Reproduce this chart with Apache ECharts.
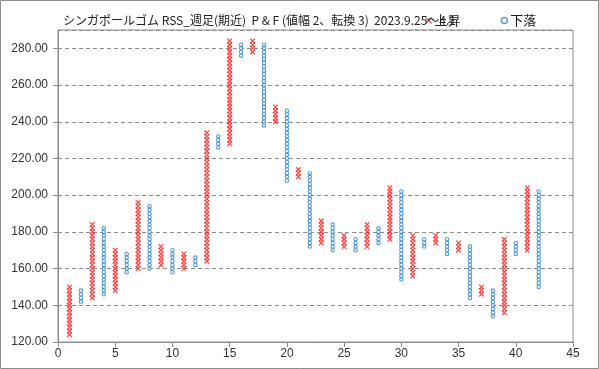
<!DOCTYPE html>
<html>
<head>
<meta charset="utf-8">
<script src="https://cdn.jsdelivr.net/npm/echarts@6/dist/echarts.min.js"></script>
<style>
html,body{margin:0;padding:0;background:#fff;}
#c{width:599px;height:369px;}
</style>
</head>
<body>
<div id="c"></div>
<script>
// P&F columns (box size 2, reversal 3): column index, type, low box, high box
const columns = [1,2,3,4,5,6,7,8,9,10,11,12,13,14,15,16,17,18,19,20,21,22,23,24,25,26,27,28,29,30,31,32,33,34,35,36,37,38,39,40,41,42];
const columnType = ['X','O','X','O','X','O','X','O','X','O','X','O','X','O','X','O','X','O','X','O','X','O','X','O','X','O','X','O','X','O','X','O','X','O','X','O','X','O','X','O','X','O'];
const columnLow  = [124,142,144,146,148,158,160,160,162,158,160,162,164,226,228,276,278,238,240,208,210,172,174,170,172,170,172,174,176,154,156,172,174,168,170,144,146,134,136,168,170,150];
const columnHigh = [150,148,184,182,170,168,196,194,172,170,168,166,234,232,284,282,284,282,248,246,214,212,186,184,178,176,184,182,204,202,178,176,178,176,174,172,150,148,176,174,204,202];
const boxSize = 2;
const yTicks = [120,140,160,180,200,220,240,260,280];
const xTicks = [0,5,10,15,20,25,30,35,40,45];
const titleText = 'シンガポールゴム RSS_週足(期近)  P & F (値幅 2、転換 3)  2023.9.25～4.1';
const seriesNames = ['上昇','下落'];

const upPts = [], downPts = [];
columns.forEach((c, i) => {
  for (let v = columnLow[i]; v <= columnHigh[i]; v += boxSize) {
    (columnType[i] === 'X' ? upPts : downPts).push([c, v]);
  }
});

const chart = echarts.init(document.getElementById('c'), null, {renderer: 'canvas'});
const xPath = 'path://M0,0L10,10M10,0L0,10';
chart.setOption({
  animation: false,
  backgroundColor: '#fff',
  title: {
    text: titleText,
    left: 58, top: 9,
    textStyle: {fontFamily: 'Noto Sans CJK JP', fontSize: 12, fontWeight: 'normal', color: '#222'}
  },
  legend: {
    left: 420, top: 9,
    itemGap: 40,
    itemWidth: 6, itemHeight: 6,
    textStyle: {fontFamily: 'Noto Sans CJK JP', fontSize: 13, color: '#222', padding: [0,0,0,-2]},
    data: [
      {name: seriesNames[0], icon: xPath, itemStyle: {color: 'transparent', borderColor: '#ff2020', borderWidth: 1.2}},
      {name: seriesNames[1], icon: 'circle', itemStyle: {color: '#fff', borderColor: '#2f86c9', borderWidth: 1.5}}
    ]
  },
  grid: {left: 58, top: 30, right: 26, bottom: 27, show: true, borderColor: '#8c8c8c', borderWidth: 1},
  xAxis: {
    type: 'value', min: xTicks[0], max: xTicks[xTicks.length-1], interval: 5,
    axisLine: {show: true, lineStyle: {color: '#8c8c8c'}},
    axisTick: {show: true, length: 5, lineStyle: {color: '#8c8c8c'}},
    splitLine: {show: false},
    axisLabel: {color: '#333', fontFamily: 'Liberation Sans', fontSize: 12, margin: 6}
  },
  yAxis: {
    type: 'value', min: yTicks[0], max: 290, interval: 20,
    axisLine: {show: true, lineStyle: {color: '#8c8c8c'}},
    axisTick: {show: true, length: 5, lineStyle: {color: '#8c8c8c'}},
    splitLine: {show: true, lineStyle: {color: '#8c8c8c', type: [4,3], width: 1}},
    axisLabel: {color: '#333', fontFamily: 'Liberation Sans', fontSize: 12, margin: 10, showMaxLabel: false,
      formatter: v => v.toFixed(2)}
  },
  series: [
    {name: seriesNames[0], type: 'scatter', data: upPts, symbol: xPath, symbolSize: 4.6,
     itemStyle: {color: 'transparent', borderColor: '#ff2020', borderWidth: 1.3}},
    {name: seriesNames[1], type: 'scatter', data: downPts, symbol: 'circle', symbolSize: 3.4,
     itemStyle: {color: '#fff', borderColor: '#2a83c8', borderWidth: 1.1}}
  ],
  graphic: [{type: 'rect', shape: {x: 0.5, y: 0.5, width: 598, height: 368}, style: {fill: null, stroke: '#8c8c8c', lineWidth: 1}, silent: true, z: -1}]
});
</script>
</body>
</html>
